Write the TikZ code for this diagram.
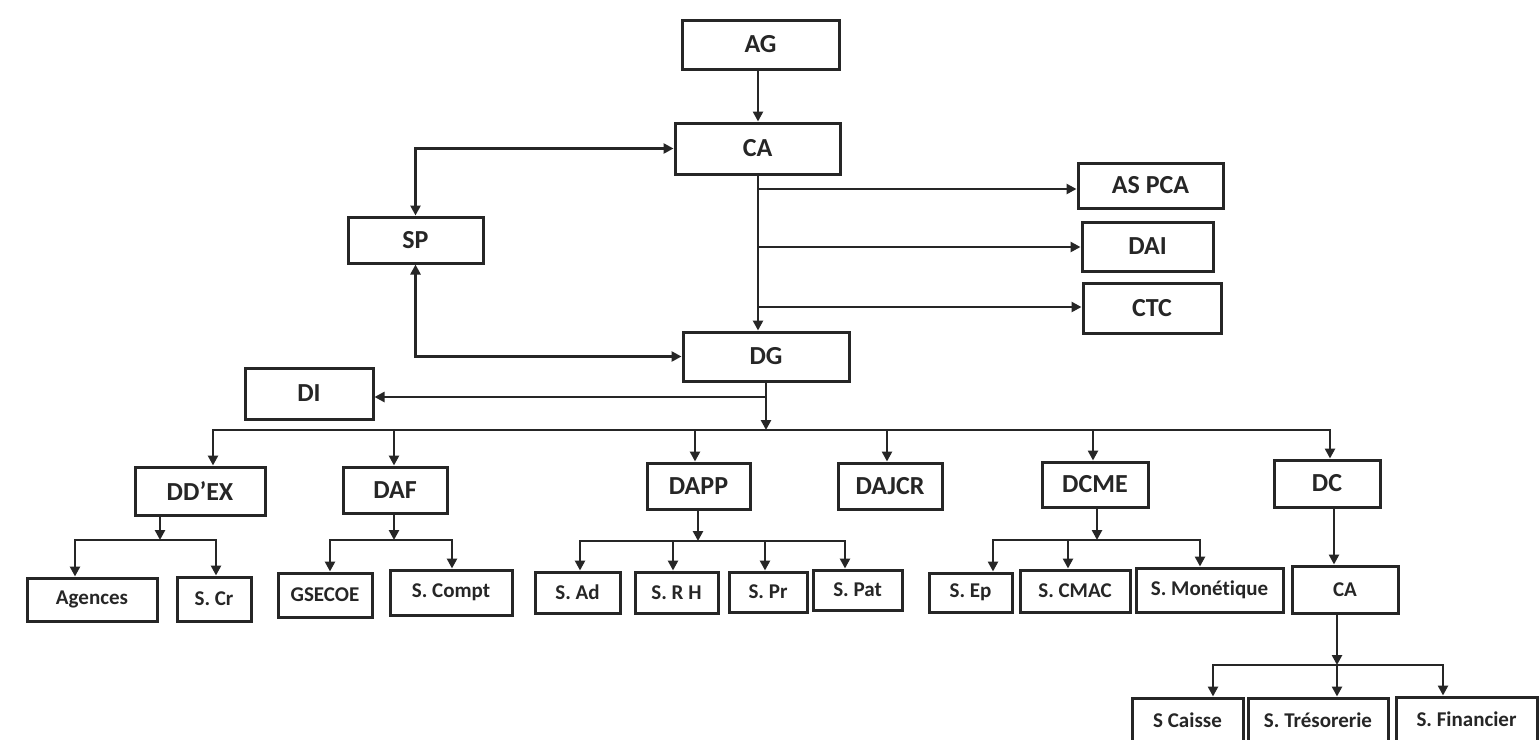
\documentclass[tikz,border=0pt]{standalone}
\usepackage{fontspec}
\setmainfont[Ligatures=CommonOff]{Carlito}
\usetikzlibrary{arrows.meta}
\definecolor{ink}{HTML}{262626}
\begin{document}
\begin{tikzpicture}[x=1pt,y=-1pt,
  box/.style={draw=ink, line width=3pt, inner sep=0pt, text=ink, font=\bfseries\fontsize{26}{26}\selectfont},
  sbox/.style={box, font=\bfseries\fontsize{21}{21}\selectfont},
  conn/.style={draw=ink, line width=2.6pt},
  arr/.style={conn, -{Triangle[length=10pt,width=10pt]}},
  darr/.style={conn, {Triangle[length=10pt,width=10pt]}-{Triangle[length=10pt,width=10pt]}}]
\useasboundingbox[fill=white] (0,0) rectangle (1539,739);

% top level
\node[box, minimum width=157pt, minimum height=49pt] (AG) at (760.5,44.5) {AG};
\node[box, minimum width=165pt, minimum height=51pt] (CA) at (757.5,148.5) {CA};
\node[box, minimum width=135pt, minimum height=46pt] (SP) at (415.5,240) {SP};
\node[box, minimum width=145pt, minimum height=45pt] (ASPCA) at (1150.5,185.5) {AS PCA};
\node[box, minimum width=131pt, minimum height=49pt] (DAI) at (1147.5,246.5) {DAI};
\node[box, minimum width=138pt, minimum height=50pt] (CTC) at (1152,308) {CTC};
\node[box, minimum width=166pt, minimum height=49pt] (DG) at (766,356.5) {DG};
\node[box, minimum width=128pt, minimum height=51pt] (DI) at (309,393.5) {DI};

% directions
\node[box, minimum width=130pt, minimum height=48pt] (DDEX) at (200,491) {DD’EX};
\node[box, minimum width=104pt, minimum height=46pt] (DAF) at (395,490) {DAF};
\node[box, minimum width=103pt, minimum height=46pt] (DAPP) at (698.5,486) {DAPP};
\node[box, minimum width=104pt, minimum height=46pt] (DAJCR) at (890,486) {DAJCR};
\node[box, minimum width=106pt, minimum height=45pt] (DCME) at (1095,484.5) {DCME};
\node[box, minimum width=106pt, minimum height=47pt] (DC) at (1327,483.5) {DC};

% services
\node[sbox, minimum width=130pt, minimum height=43pt] (Agences) at (92,599.5) {Agences};
\node[sbox, minimum width=74pt, minimum height=44pt] (SCr) at (214,599) {S. Cr};
\node[sbox, minimum width=94pt, minimum height=44pt] (GSECOE) at (325,595) {GSECOE};
\node[sbox, minimum width=122pt, minimum height=45pt] (SCompt) at (451,592.5) {S. Compt};
\node[sbox, minimum width=85pt, minimum height=41pt] (SAd) at (577.5,592.5) {S. Ad};
\node[sbox, minimum width=83pt, minimum height=41pt] (SRH) at (676.5,592.5) {S. R H};
\node[sbox, minimum width=78pt, minimum height=40pt] (SPr) at (768,592) {S. Pr};
\node[sbox, minimum width=89pt, minimum height=40pt] (SPat) at (857.5,590) {S. Pat};
\node[sbox, minimum width=83pt, minimum height=39pt] (SEp) at (970.5,592.5) {S. Ep};
\node[sbox, minimum width=110pt, minimum height=42pt] (SCMAC) at (1075,591) {S. CMAC};
\node[sbox, minimum width=147pt, minimum height=44pt] (SMon) at (1209.5,590) {S. Monétique};
\node[sbox, minimum width=106pt, minimum height=47pt] (CAb) at (1345,589.5) {CA};
\node[sbox, minimum width=111pt, minimum height=45pt] (SCaisse) at (1187.5,720.5) {S Caisse};
\node[sbox, minimum width=140pt, minimum height=45pt] (STres) at (1318,720.5) {S. Trésorerie};
\node[sbox, minimum width=141pt, minimum height=45pt] (SFin) at (1466.5,719.5) {S. Financier};

% --- connectors: top
\coordinate (vx) at (758,0);
\draw[arr] (AG.south -| vx) -- (CA.north -| vx);
\draw[arr] (CA.south -| vx) -- (DG.north -| vx);
\coordinate (b1) at (758,189);
\coordinate (b2) at (758,247);
\coordinate (b3) at (758,307);
\draw[arr] (b1) -- (b1 -| ASPCA.west);
\draw[arr] (b2) -- (b2 -| DAI.west);
\draw[arr] (b3) -- (b3 -| CTC.west);
\draw[darr] (SP.north) |- (CA.west);
\draw[darr] (SP.south) |- (DG.west);

% DG to DI and bus
\coordinate (dgx) at (766,0);
\coordinate (mbus) at (766,430);
\coordinate (dil) at (766,397);
\draw[arr] (DG.south -| dgx) -- (mbus);
\draw[arr] (dil) -- (dil -| DI.east);
\coordinate (busL) at (213,430);
\coordinate (busR) at (1330,430);
\coordinate (tDAF) at (394,430);
\coordinate (tDAPP) at (695,430);
\coordinate (tDAJCR) at (887,430);
\coordinate (tDCME) at (1093,430);
\draw[conn] (busL) -- (busR);
\draw[arr] (mbus) -| (busL |- DDEX.north);
\draw[arr] (mbus) -| (busR |- DC.north);
\draw[arr] (tDAF) -- (tDAF |- DAF.north);
\draw[arr] (tDAPP) -- (tDAPP |- DAPP.north);
\draw[arr] (tDAJCR) -- (tDAJCR |- DAJCR.north);
\draw[arr] (tDCME) -- (tDCME |- DCME.north);

% DD'EX
\coordinate (j1) at (160,540);
\coordinate (j1a) at (75,540);
\coordinate (j1b) at (216,540);
\draw[arr] (DDEX.south -| j1) -- (j1);
\draw[arr] (j1) -| (j1a |- Agences.north);
\draw[arr] (j1) -| (j1b |- SCr.north);

% DAF
\coordinate (j2) at (394,540);
\coordinate (j2a) at (330,540);
\coordinate (j2b) at (452,540);
\draw[arr] (DAF.south -| j2) -- (j2);
\draw[arr] (j2) -| (j2a |- GSECOE.north);
\draw[arr] (j2) -| (j2b |- SCompt.north);

% DAPP
\coordinate (j3) at (698,541);
\coordinate (j3a) at (580,541);
\coordinate (j3b) at (673,541);
\coordinate (j3c) at (765,541);
\coordinate (j3d) at (845,541);
\draw[arr] (DAPP.south -| j3) -- (j3);
\draw[arr] (j3) -| (j3a |- SAd.north);
\draw[arr] (j3) -| (j3d |- SPat.north);
\draw[arr] (j3b) -- (j3b |- SRH.north);
\draw[arr] (j3c) -- (j3c |- SPr.north);

% DCME
\coordinate (j4) at (1097,540);
\coordinate (j4a) at (993,540);
\coordinate (j4b) at (1068,540);
\coordinate (j4c) at (1200,540);
\draw[arr] (DCME.south -| j4) -- (j4);
\draw[arr] (j4) -| (j4a |- SEp.north);
\draw[arr] (j4) -| (j4c |- SMon.north);
\draw[arr] (j4b) -- (j4b |- SCMAC.north);

% DC -> CA
\coordinate (j5) at (1334,0);
\draw[arr] (DC.south -| j5) -- (CAb.north -| j5);

% CA -> services
\coordinate (j6) at (1337,665);
\coordinate (j6a) at (1213,665);
\coordinate (j6c) at (1443,665);
\draw[arr] (CAb.south -| j6) -- (j6);
\draw[arr] (j6) -| (j6a |- SCaisse.north);
\draw[arr] (j6) -| (j6c |- SFin.north);
\draw[arr] (j6) -- (j6 |- STres.north);
\end{tikzpicture}
\end{document}
